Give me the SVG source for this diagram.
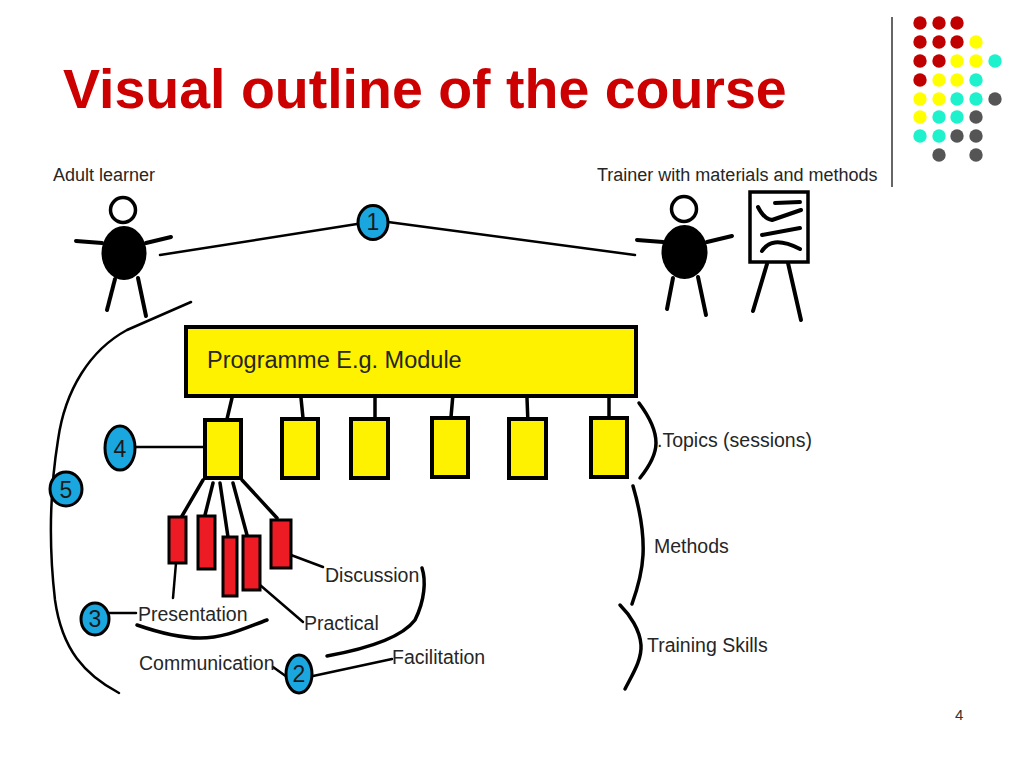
<svg xmlns="http://www.w3.org/2000/svg" width="1024" height="768" viewBox="0 0 1024 768">
<style>
.t{font-family:"Liberation Sans",Arial,sans-serif;fill:#262626}
.lbl{font-size:19.5px}
.num{font-family:"Liberation Sans",Arial,sans-serif;fill:#1a1a1a;font-size:23px;text-anchor:middle}
.bub{fill:#1AA7E0;stroke:#000;stroke-width:3}
.ln{fill:none;stroke:#000;stroke-width:2.5;stroke-linecap:round;stroke-linejoin:round}
.thk{fill:none;stroke:#000;stroke-width:3.5;stroke-linecap:round;stroke-linejoin:round}
.fig{fill:none;stroke:#000;stroke-width:4;stroke-linecap:round;stroke-linejoin:round}
.topic{fill:#FFF200;stroke:#000;stroke-width:4}
.meth{fill:#ED1C24;stroke:#000;stroke-width:3}
.dr{fill:#C00000}.dy{fill:#FFFF00}.dc{fill:#1DF2CC}.dg{fill:#555555}
</style>
<rect width="1024" height="768" fill="#fff"/>

<g id="decoration">
<line x1="892" y1="17" x2="892" y2="187" stroke="#333" stroke-width="1.5"/>
<circle class="dr" cx="920" cy="23" r="6.7"/><circle class="dr" cx="939" cy="23" r="6.7"/><circle class="dr" cx="957" cy="23" r="6.7"/>
<circle class="dr" cx="920" cy="42" r="6.7"/><circle class="dr" cx="939" cy="42" r="6.7"/><circle class="dr" cx="957" cy="42" r="6.7"/><circle class="dy" cx="976" cy="42" r="6.7"/>
<circle class="dr" cx="920" cy="61" r="6.7"/><circle class="dr" cx="939" cy="61" r="6.7"/><circle class="dy" cx="957" cy="61" r="6.7"/><circle class="dy" cx="976" cy="61" r="6.7"/><circle class="dc" cx="995" cy="61" r="6.7"/>
<circle class="dr" cx="920" cy="80" r="6.7"/><circle class="dy" cx="939" cy="80" r="6.7"/><circle class="dy" cx="957" cy="80" r="6.7"/><circle class="dc" cx="976" cy="80" r="6.7"/>
<circle class="dy" cx="920" cy="99" r="6.7"/><circle class="dy" cx="939" cy="99" r="6.7"/><circle class="dc" cx="957" cy="99" r="6.7"/><circle class="dc" cx="976" cy="99" r="6.7"/><circle class="dg" cx="995" cy="99" r="6.7"/>
<circle class="dy" cx="920" cy="117" r="6.7"/><circle class="dc" cx="939" cy="117" r="6.7"/><circle class="dc" cx="957" cy="117" r="6.7"/><circle class="dg" cx="976" cy="117" r="6.7"/>
<circle class="dc" cx="920" cy="136" r="6.7"/><circle class="dc" cx="939" cy="136" r="6.7"/><circle class="dg" cx="957" cy="136" r="6.7"/><circle class="dg" cx="976" cy="136" r="6.7"/>
<circle class="dg" cx="939" cy="155" r="6.7"/><circle class="dg" cx="976" cy="155" r="6.7"/>
</g>

<text x="63" y="108" font-family="'Liberation Sans',Arial,sans-serif" font-weight="bold" font-size="55.5" fill="#CC0000">Visual outline of the course</text>

<g id="connectors">
<polyline class="ln" points="160,255 357,224"/>
<polyline class="ln" points="388,222 635,255"/>
<path class="ln" d="M191,302 L127,330 C90,350 65,390 58,440 C50,490 48,540 55,600 C62,650 85,675 119,693"/>
<line class="ln" x1="136" y1="447" x2="204" y2="447"/>
<g class="thk">
<polyline points="232,398 227,419"/>
<polyline points="301,398 303,418"/>
<polyline points="375,398 375,418"/>
<polyline points="453,394 451,417"/>
<polyline points="527,398 528,424"/>
<polyline points="609,398 609,417"/>
<polyline points="203,480 182,516"/>
<polyline points="213,483 205,515"/>
<polyline points="220,483 228,537"/>
<polyline points="233,483 247,535"/>
<polyline points="242,480 277,518"/>
</g>
<polyline class="ln" points="176,563 173,598"/>
<polyline class="ln" points="260,585 303,622"/>
<polyline class="ln" points="291,555 323,567"/>
<polyline class="ln" points="109,613 136,613"/>
<path class="thk" d="M137,625 C160,633 180,638 200,638 C225,638 245,628 267,620"/>
<path class="thk" d="M422,568 C426,580 425,600 415,620 C400,640 360,650 327,656"/>
<polyline class="ln" points="273,667 287,677"/>
<polyline class="ln" points="313,676 392,659"/>
<path class="thk" d="M639,403 C648,415 656,430 656,443 C656,455 648,468 640,478"/>
<path class="thk" d="M633,486 C640,510 644,535 643,555 C642,575 637,590 632,604"/>
<path class="thk" d="M620,605 C630,615 640,630 641,645 C642,660 632,675 625,689"/>
</g>

<g id="adult-learner">
<text class="t" x="53" y="181" font-size="18">Adult learner</text>
<circle cx="123" cy="210" r="12.5" fill="#fff" stroke="#000" stroke-width="3.5"/>
<ellipse cx="124" cy="253" rx="22.5" ry="27" fill="#000"/>
<line class="fig" x1="76" y1="241" x2="102" y2="243"/>
<line class="fig" x1="146" y1="243" x2="171" y2="237"/>
<line class="fig" x1="115" y1="279" x2="107" y2="310"/>
<line class="fig" x1="138" y1="278" x2="146" y2="316"/>
</g>

<g id="trainer">
<text class="t" x="597" y="181" font-size="18">Trainer with materials and methods</text>
<circle cx="684" cy="209" r="12.5" fill="#fff" stroke="#000" stroke-width="3.5"/>
<ellipse cx="684.5" cy="252" rx="23" ry="27" fill="#000"/>
<line class="fig" x1="637" y1="240" x2="663" y2="242"/>
<line class="fig" x1="707" y1="242" x2="732" y2="236"/>
<line class="fig" x1="673" y1="278" x2="667" y2="309"/>
<line class="fig" x1="698" y1="277" x2="706" y2="315"/>
</g>

<g id="easel">
<rect x="750" y="192" width="58" height="70" fill="#fff" stroke="#000" stroke-width="3.5"/>
<line class="fig" x1="775" y1="203" x2="800" y2="202"/>
<path class="fig" d="M758,207 Q764,219 772,220 L801,210"/>
<line class="fig" x1="762" y1="235" x2="800" y2="228"/>
<path class="fig" d="M762,251 C768,242 778,238 800,249"/>
<line class="fig" x1="767" y1="264" x2="753" y2="311"/>
<line class="fig" x1="788" y1="263" x2="801" y2="320"/>
</g>

<g id="node-1"><ellipse class="bub" cx="373" cy="222.5" rx="15" ry="17"/><text class="num" x="373" y="230" font-size="22">1</text></g>

<g id="programme">
<rect x="186" y="327" width="450" height="69" fill="#FFF200" stroke="#000" stroke-width="4"/>
<text class="t" x="207" y="368" font-size="23.5">Programme E.g. Module</text>
</g>

<g id="topics">
<rect class="topic" x="205" y="420" width="36" height="58"/>
<rect class="topic" x="282" y="419" width="36" height="59"/>
<rect class="topic" x="351" y="419" width="37" height="59"/>
<rect class="topic" x="432" y="418" width="36" height="59"/>
<rect class="topic" x="509" y="419" width="37" height="59"/>
<rect class="topic" x="591" y="418" width="36" height="59"/>
</g>

<g id="node-4"><ellipse class="bub" cx="120" cy="448" rx="15" ry="22"/><text class="num" x="120" y="457" font-size="24">4</text></g>
<g id="node-5"><ellipse class="bub" cx="66" cy="489" rx="16" ry="17"/><text class="num" x="66" y="498" font-size="24">5</text></g>

<g id="methods">
<rect class="meth" x="169" y="517" width="17" height="46"/>
<rect class="meth" x="198" y="516" width="17" height="53"/>
<rect class="meth" x="223" y="537" width="14" height="59"/>
<rect class="meth" x="243" y="536" width="17" height="54"/>
<rect class="meth" x="271" y="520" width="20" height="48"/>
</g>

<g id="labels">
<text class="t lbl" x="325" y="582">Discussion</text>
<text class="t lbl" x="138" y="621">Presentation</text>
<text class="t lbl" x="304" y="630">Practical</text>
<text class="t lbl" x="139" y="670">Communication</text>
<text class="t lbl" x="392" y="664">Facilitation</text>
<text class="t lbl" x="657" y="447">.Topics (sessions)</text>
<text class="t lbl" x="654" y="553">Methods</text>
<text class="t lbl" x="647" y="652">Training Skills</text>
</g>

<g id="node-3"><ellipse class="bub" cx="95" cy="619" rx="14" ry="16"/><text class="num" x="95" y="627" font-size="22">3</text></g>
<g id="node-2"><ellipse class="bub" cx="299" cy="674" rx="13" ry="19"/><text class="num" x="299" y="682" font-size="22">2</text></g>

<text x="955" y="720" font-family="'Liberation Sans',Arial,sans-serif" font-size="15" fill="#333">4</text>
</svg>
